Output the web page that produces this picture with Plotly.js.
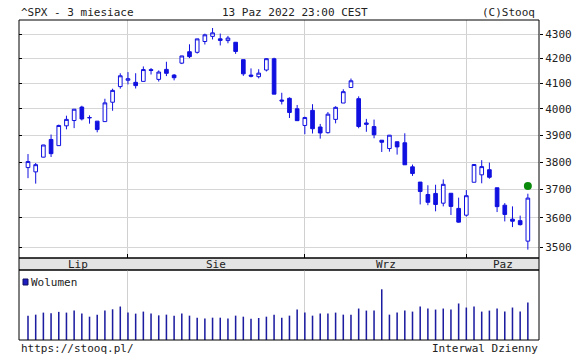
<!DOCTYPE html>
<html>
<head>
<meta charset="utf-8">
<script src="https://cdn.plot.ly/plotly-3.0.1.min.js"></script>
<style>html,body{margin:0;padding:0;background:#fff;}#chart{width:585px;height:355px;}</style>
</head>
<body>
<div id="chart"></div>
<script>
const dates = ['2022-07-13','2022-07-14','2022-07-15','2022-07-18','2022-07-19','2022-07-20','2022-07-21','2022-07-22','2022-07-25','2022-07-26','2022-07-27','2022-07-28','2022-07-29',
'2022-08-01','2022-08-02','2022-08-03','2022-08-04','2022-08-05','2022-08-08','2022-08-09','2022-08-10','2022-08-11','2022-08-12','2022-08-15','2022-08-16','2022-08-17','2022-08-18','2022-08-19','2022-08-22','2022-08-23','2022-08-24','2022-08-25','2022-08-26','2022-08-29','2022-08-30','2022-08-31',
'2022-09-01','2022-09-02','2022-09-06','2022-09-07','2022-09-08','2022-09-09','2022-09-12','2022-09-13','2022-09-14','2022-09-15','2022-09-16','2022-09-19','2022-09-20','2022-09-21','2022-09-22','2022-09-23','2022-09-26','2022-09-27','2022-09-28','2022-09-29','2022-09-30',
'2022-10-03','2022-10-04','2022-10-05','2022-10-06','2022-10-07','2022-10-10','2022-10-11','2022-10-12','2022-10-13'];
const openP  = [3779.7,3764.0,3818.0,3883.8,3860.7,3935.3,3955.5,4007.3,3965.7,3953.2,3951.4,4026.1,4087.3,
4112.4,4104.2,4108.0,4154.9,4115.9,4155.9,4133.1,4181.0,4227.4,4225.0,4269.4,4290.5,4280.4,4273.1,4266.3,4195.1,4133.1,4126.6,4153.3,4198.7,4034.6,4041.3,4000.7,
3936.7,3994.7,3930.9,3909.4,3959.9,4022.9,4083.7,4040.0,3940.7,3932.4,3881.0,3849.9,3875.2,3871.4,3782.4,3727.1,3682.7,3686.4,3651.9,3687.0,3633.5,
3609.8,3726.5,3753.3,3772.0,3706.7,3644.8,3595.9,3590.8,3520.4];
const highP  = [3829.4,3796.4,3863.6,3902.4,3939.8,3974.1,3999.3,4012.4,3975.3,3953.2,4039.6,4079.0,4140.2,
4145.0,4140.5,4167.7,4161.3,4151.6,4186.6,4137.3,4211.0,4257.9,4280.5,4301.8,4325.3,4302.2,4292.5,4266.3,4195.1,4159.8,4156.6,4200.5,4203.0,4063.0,4045.0,4015.4,
3970.2,4018.4,3942.6,3987.9,4010.5,4076.8,4119.3,4049.0,3961.9,3959.1,3881.0,3900.5,3876.0,3907.1,3790.7,3727.1,3715.7,3717.5,3736.7,3687.0,3671.4,
3698.4,3791.9,3806.9,3797.9,3706.7,3652.2,3640.7,3608.3,3685.4];
const lowP   = [3741.3,3721.6,3817.2,3818.6,3860.7,3922.0,3926.6,3955.8,3943.5,3910.7,3951.4,3993.0,4079.2,
4096.0,4079.8,4108.0,4135.4,4107.3,4129.0,4112.1,4177.3,4201.4,4219.8,4256.9,4277.8,4253.1,4262.0,4218.7,4129.9,4124.0,4120.0,4147.6,4057.7,4017.4,3965.2,3954.5,
3903.7,3906.2,3886.8,3906.0,3944.8,4022.9,4083.7,3926.0,3912.7,3888.3,3837.1,3838.5,3827.5,3789.5,3749.5,3647.5,3644.8,3623.3,3640.6,3610.4,3584.1,
3604.9,3726.5,3722.7,3739.2,3620.7,3588.1,3568.5,3573.9,3491.6];
const closeP = [3801.8,3790.4,3863.2,3830.9,3936.7,3959.9,3999.0,3961.6,3966.8,3921.1,4023.6,4072.4,4130.3,
4118.6,4091.2,4155.2,4151.9,4145.2,4140.1,4122.5,4210.2,4207.3,4280.2,4297.1,4305.2,4274.0,4283.7,4228.5,4138.0,4128.7,4140.8,4199.1,4057.7,4030.6,3986.2,3955.0,
3966.9,3924.3,3908.2,3979.9,4006.2,4067.4,4110.4,3932.7,3946.0,3901.4,3873.3,3899.9,3855.9,3789.9,3758.0,3693.2,3655.0,3647.3,3719.0,3640.5,3585.6,
3678.4,3790.9,3783.3,3744.5,3639.7,3612.4,3588.8,3577.0,3669.9];
const volume = [3360,3500,3780,3680,3880,3780,4060,3640,3220,3500,4060,4240,4620,
3780,3640,3920,3640,3400,3500,3360,3640,3360,3080,2980,3080,3080,2980,3360,3220,2940,3040,3220,3500,3080,3360,4200,
3780,3360,3640,3640,3780,3500,3500,4340,4060,4060,7000,3500,3780,4060,3920,4620,4340,4200,4340,4200,5040,
4480,4620,3920,4060,4340,3920,4480,3920,5180];
const lastQuote = 3713;
const priceTicks = [3500,3600,3700,3800,3900,4000,4100,4200,4300];
const monthNames = ['Sty','Lut','Mar','Kwi','Maj','Cze','Lip','Sie','Wrz','Paz','Lis','Gru'];

const idx = dates.map((d,i)=>i);
const xMin = -1.17, xMax = 66.45;

// month boundaries
const starts = [];
dates.forEach((d,i)=>{ const m = d.slice(0,7); if (i===0 || m !== dates[i-1].slice(0,7)) starts.push(i); });
const monthLines = starts.slice(1);
const annotations = [];
starts.forEach((s,k)=>{
  const e = k+1 < starts.length ? starts[k+1] : xMax;
  const mid = (s + e)/2;
  const mName = monthNames[parseInt(dates[s].slice(5,7),10)-1];
  annotations.push({x: mid, xref:'x', y:0.2375, yref:'paper', text:mName, showarrow:false,
    font:{family:'DejaVu Sans Mono', size:11, color:'#222'}, xanchor:'center', yanchor:'middle'});
});
const F = {family:'DejaVu Sans Mono', size:11, color:'#222'};
annotations.push({x:0, xref:'paper', y:1.025, yref:'paper', text:'^SPX - 3 miesiace', showarrow:false, xanchor:'left', yanchor:'middle', font:F});
annotations.push({x:0.5308, xref:'paper', y:1.025, yref:'paper', text:'13 Paz 2022 23:00 CEST', showarrow:false, xanchor:'center', yanchor:'middle', font:F});
annotations.push({x:0.996, xref:'paper', y:1.025, yref:'paper', text:'(C)Stooq', showarrow:false, xanchor:'right', yanchor:'middle', font:F});
annotations.push({x:0, xref:'paper', y:-0.025, yref:'paper', text:'https://stooq.pl/', showarrow:false, xanchor:'left', yanchor:'middle', font:F});
annotations.push({x:1.002, xref:'paper', y:-0.025, yref:'paper', text:'Interwal Dzienny', showarrow:false, xanchor:'right', yanchor:'middle', font:F});
annotations.push({x:0.019, xref:'paper', y:0.18125, yref:'paper', text:'Wolumen', showarrow:false, xanchor:'left', yanchor:'middle', font:F});

const shapes = [
  {type:'rect', xref:'paper', yref:'paper', x0:0, x1:1, y0:0.21875, y1:0.25625, fillcolor:'#e4e4e4', line:{color:'#000', width:1}, layer:'below'},
  {type:'rect', xref:'paper', yref:'paper', x0:0, x1:1, y0:0.25625, y1:1, line:{color:'#000', width:1}},
  {type:'rect', xref:'paper', yref:'paper', x0:0, x1:1, y0:0, y1:0.21875, line:{color:'#000', width:1}},
  {type:'rect', xref:'paper', yref:'paper', x0:0.0077, x1:0.0173, y0:0.1719, y1:0.1906, fillcolor:'#1c1cc0', line:{color:'#101060', width:1}}
];

const traces = [
  {type:'candlestick', x:idx, open:openP, high:highP, low:lowP, close:closeP, xaxis:'x', yaxis:'y',
   increasing:{line:{color:'#1010e0', width:1}, fillcolor:'#ffffff'},
   decreasing:{line:{color:'#1010e0', width:1}, fillcolor:'#1010e0'},
   hoverinfo:'skip', showlegend:false},
  {type:'scatter', mode:'markers', x:[idx[idx.length-1]], y:[lastQuote], xaxis:'x', yaxis:'y',
   marker:{color:'#0a8a0a', size:8}, hoverinfo:'skip', showlegend:false},
  {type:'bar', x:idx, y:volume, xaxis:'x', yaxis:'y2', width:0.2,
   marker:{color:'#1c1ca0', line:{width:0}}, hoverinfo:'skip', showlegend:false},
  {type:'scatter', mode:'markers', x:[idx[0]], y:[closeP[0]], xaxis:'x', yaxis:'y3',
   marker:{opacity:0, size:1}, hoverinfo:'skip', showlegend:false}
];

const logRange = [Math.log10(3463.5), Math.log10(4359)];
const layout = {
  width:585, height:355,
  margin:{l:19, r:46, t:20, b:15, pad:0},
  paper_bgcolor:'#fff', plot_bgcolor:'#fff',
  showlegend:false, boxgap:0.32,
  xaxis:{range:[xMin,xMax], rangeslider:{visible:false}, tickmode:'array', tickvals:monthLines,
    showticklabels:false, ticks:'inside', ticklen:4, tickcolor:'#000', showgrid:true, gridcolor:'#d0d0d0', gridwidth:1,
    zeroline:false, showline:false, anchor:'y', fixedrange:true},
  yaxis:{domain:[0.25625,1], type:'log', range:logRange, side:'right', tickmode:'array',
    tickvals:priceTicks, ticktext:priceTicks.map(String), ticks:'outside', ticklen:3, tickcolor:'#000',
    showgrid:true, gridcolor:'#d6d6d6', zeroline:false, showline:false,
    tickfont:{family:'DejaVu Sans Mono', size:11, color:'#222'}, fixedrange:true},
  yaxis3:{overlaying:'y', type:'log', range:logRange, side:'left', tickmode:'array', tickvals:priceTicks,
    showticklabels:false, ticks:'inside', ticklen:3, tickcolor:'#000', showgrid:false, zeroline:false, showline:false, fixedrange:true},
  yaxis2:{domain:[0,0.21875], range:[0,9660], showticklabels:false, showgrid:false, zeroline:false, ticks:'', fixedrange:true},
  annotations:annotations, shapes:shapes
};
Plotly.newPlot('chart', traces, layout, {staticPlot:true, displayModeBar:false});
</script>
</body>
</html>
